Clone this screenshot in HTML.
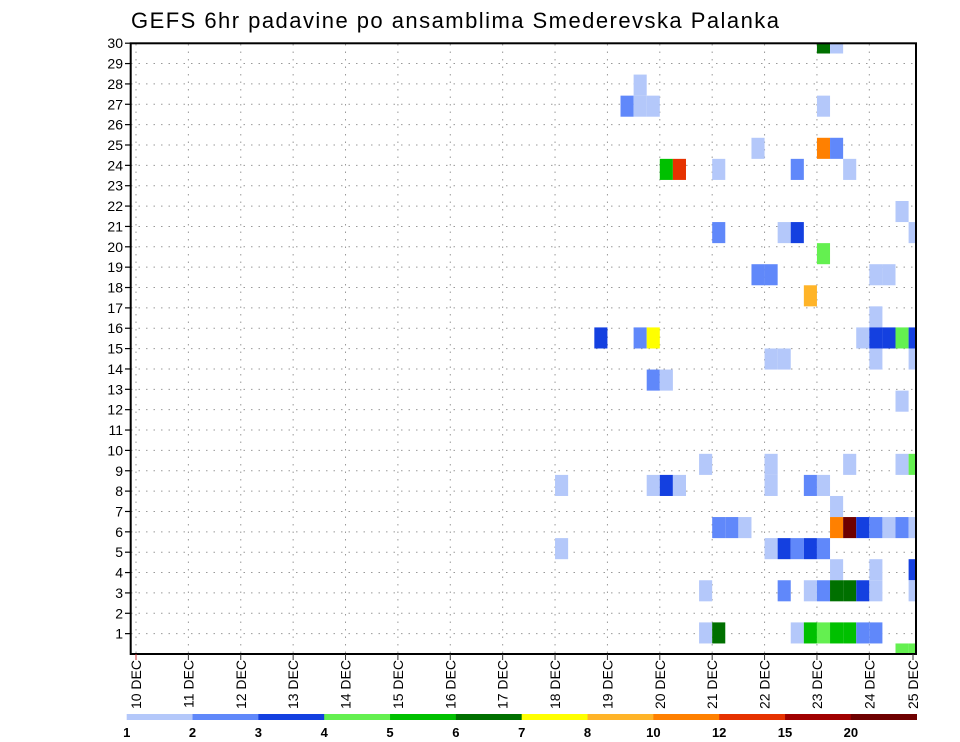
<!DOCTYPE html>
<html><head><meta charset="utf-8"><style>
html,body{margin:0;padding:0;background:#fff;}
svg{display:block;font-family:"Liberation Sans",sans-serif;}
</style></head><body>
<svg id="chart" width="960" height="742" viewBox="0 0 960 742">
<text x="131" y="28" font-size="22" textLength="648" lengthAdjust="spacing" fill="#000">GEFS 6hr padavine po ansamblima Smederevska Palanka</text>
<defs><clipPath id="pc"><rect x="131" y="43.3" width="785" height="610.7"/></clipPath></defs>
<g id="grid"></g>
<g id="cells" clip-path="url(#pc)"></g>
<rect x="130.7" y="43.3" width="785.3" height="610.7" fill="none" stroke="#000" stroke-width="2"/>
<g id="yaxis"></g>
<g id="xaxis"></g>
<g id="legend"></g>
</svg>
<script>
// member rows (0..29), 6-hour step index from 10 DEC 00z, precip value (mm)
const members = [
 29,29,
 27,
 26,26,26,26,
 24,24,24,
 23,23,23,23,23,
 21,
 20,20,20,20,
 19,
 18,18,18,18,
 17,
 16,
 15,15,15,15,15,15,15,15,
 14,14,14,14,
 13,13,
 12,
 9,9,9,9,9,
 8,8,8,8,8,8,8,
 7,
 6,6,6,6,6,6,6,6,6,6,
 5,5,5,5,5,5,
 4,4,4,
 3,3,3,3,3,3,3,3,3,
 1,1,1,1,1,1,1,1,1,
 0,0];
const steps = [
 52,53,
 38,
 37,38,39,52,
 47,52,53,
 40,41,44,50,54,
 58,
 44,49,50,59,
 52,
 47,48,56,57,
 51,
 56,
 35,38,39,55,56,57,58,59,
 48,49,56,59,
 39,40,
 58,
 43,48,54,58,59,
 32,39,40,41,48,51,52,
 53,
 44,45,46,53,54,55,56,57,58,59,
 32,48,49,50,51,52,
 53,56,59,
 43,49,51,52,53,54,55,56,59,
 43,44,50,51,52,53,54,55,56,
 58,59];
const values = [
 6.5,1.5,
 1.5,
 2.5,1.5,1.5,1.5,
 1.5,11,2.5,
 5.5,13.5,1.5,2.5,1.5,
 1.5,
 2.5,1.5,3.5,1.5,
 4.5,
 2.5,2.5,1.5,1.5,
 9,
 1.5,
 3.5,2.5,7.5,1.5,3.5,3.5,4.5,3.5,
 1.5,1.5,1.5,1.5,
 2.5,1.5,
 1.5,
 1.5,1.5,1.5,1.5,4.5,
 1.5,1.5,3.5,1.5,1.5,2.5,1.5,
 1.5,
 2.5,2.5,1.5,11,25,3.5,2.5,1.5,2.5,1.5,
 1.5,1.5,3.5,2.5,3.5,2.5,
 1.5,1.5,3.5,
 1.5,2.5,1.5,2.5,6.5,6.5,3.5,1.5,1.5,
 1.5,6.5,1.5,5.5,4.5,5.5,5.5,2.5,2.5,
 4.5,4.5];
const levels = [1,2,3,4,5,6,7,8,10,12,15,20];
const colors = ["#b4c8fa","#6088fa","#1440e0","#64f050","#00c000","#007000","#ffff00","#ffb428","#ff8000","#e63200","#a00000","#6e0000"];
const yLabels = [1,2,3,4,5,6,7,8,9,10,11,12,13,14,15,16,17,18,19,20,21,22,23,24,25,26,27,28,29,30];
const dayLabels = ["10 DEC","11 DEC","12 DEC","13 DEC","14 DEC","15 DEC","16 DEC","17 DEC","18 DEC","19 DEC","20 DEC","21 DEC","22 DEC","23 DEC","24 DEC","25 DEC"];

const NS="http://www.w3.org/2000/svg";
const X0=136, DAY=52.38, STEP=DAY/4, BOT=654, MEM=21.07, LAB=20.36;
const xStep=k=>X0+k*STEP, yMem=j=>BOT-j*MEM, yLab=r=>BOT-r*LAB;
function mk(tag,attrs,parent){const e=document.createElementNS(NS,tag);for(const a in attrs)e.setAttribute(a,attrs[a]);parent.appendChild(e);return e;}
function colorFor(v){let i=0;for(let l=0;l<levels.length;l++){if(v>=levels[l])i=l;}return colors[i];}

const grid=document.getElementById('grid');
yLabels.forEach(r=>{const l=mk('line',{x1:131,x2:916,y1:yLab(r),y2:yLab(r),stroke:'#999','stroke-width':1,'stroke-dasharray':'1.5,6'},grid);

});
dayLabels.forEach((d,i)=>{const x=X0+i*DAY;if(x>915)return;const l=mk('line',{x1:x,x2:x,y1:44,y2:654,stroke:'#999','stroke-width':1,'stroke-dasharray':'1.5,6'},grid);

});

const cells=document.getElementById('cells');
values.forEach((v,i)=>{const r=mk('rect',{x:xStep(steps[i]),y:yMem(members[i])-MEM/2,width:STEP,height:MEM,fill:colorFor(v)},cells);

});

const ya=document.getElementById('yaxis');
yLabels.forEach(r=>{const y=yLab(r);
const t=mk('line',{x1:125,x2:131,y1:y,y2:y,stroke:'#000','stroke-width':1.2},ya);


const tx=mk('text',{x:123,y:y+5,'text-anchor':'end','font-size':14,fill:'#000'},ya);tx.textContent=r;

});

const xa=document.getElementById('xaxis');
dayLabels.forEach((d,i)=>{let x=X0+i*DAY;if(x>915)x=913;
const t=mk('line',{x1:x,x2:x,y1:654,y2:660,stroke:i===0?'#c33':'#333','stroke-width':1},xa);


const tx=mk('text',{x:0,y:0,'text-anchor':'end','font-size':14,fill:'#000',transform:`translate(${x+5},660) rotate(-90)`},xa);tx.textContent=d;

});

const lg=document.getElementById('legend');
const LW=(916.7-126.7)/colors.length;
colors.forEach((c,i)=>{const r=mk('rect',{x:126.7+i*LW,y:714,width:LW+0.3,height:6,fill:c},lg);

});
levels.forEach((l,i)=>{const tx=mk('text',{x:126.7+i*LW,y:737,'text-anchor':'middle','font-size':13,'font-weight':'bold',fill:'#000'},lg);tx.textContent=l;

});
</script>
</body></html>
